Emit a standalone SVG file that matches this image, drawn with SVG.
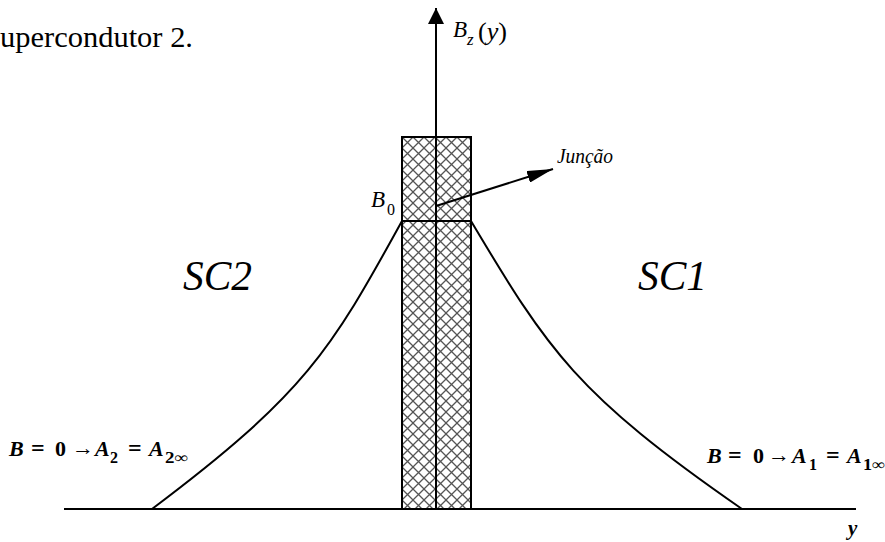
<svg xmlns="http://www.w3.org/2000/svg" width="885" height="542" viewBox="0 0 885 542">
  <defs>
    <style>
      .ln { fill: none; stroke: #000; stroke-width: 2; }
      .m { font-family: "Liberation Serif", "Times New Roman", Tinos, "DejaVu Serif", "Noto Serif", serif; font-style: italic; fill: #000; }
      .n { font-family: "Liberation Serif", "Times New Roman", Tinos, "DejaVu Serif", "Noto Serif", serif; font-style: normal; fill: #000; }
      .t { font-family: "Liberation Serif", "Times New Roman", Tinos, "DejaVu Serif", serif; fill: #000; }
    </style>
    <pattern id="hatch" patternUnits="userSpaceOnUse" x="402" y="137" width="11" height="11">
      <path d="M0,0 L11,11 M11,0 L0,11" stroke="#555" stroke-width="1.3" fill="none"/>
    </pattern>
    <marker id="headAxis" markerUnits="userSpaceOnUse" viewBox="0 0 16 16" refX="16" refY="8" markerWidth="16" markerHeight="16" orient="auto">
      <path d="M0,0 L16,8 L0,16 Z" fill="#000"/>
    </marker>
    <marker id="headJ" markerUnits="userSpaceOnUse" viewBox="0 0 26 12" refX="26" refY="6" markerWidth="26" markerHeight="12" orient="auto">
      <path d="M0,0 L26,6 L0,12 Z" fill="#000"/>
    </marker>
  </defs>
  <rect width="885" height="542" fill="#fff"/>

  <g id="caption">
    <text class="t" x="0" y="47" font-size="30" textLength="193" lengthAdjust="spacingAndGlyphs">upercondutor 2.</text>
  </g>

  <g id="junction-box">
    <rect x="402" y="137" width="69" height="372" fill="url(#hatch)" stroke="#000" stroke-width="2"/>
    <line x1="402" y1="221" x2="471" y2="221" stroke="#000" stroke-width="2"/>
  </g>

  <g id="connectors">
    <line id="baseline" class="ln" x1="64" y1="509" x2="856" y2="509"/>
    <line id="axis" class="ln" x1="436" y1="509" x2="436" y2="8" marker-end="url(#headAxis)"/>
    <line id="junction-arrow" class="ln" x1="436" y1="206" x2="553" y2="169" marker-end="url(#headJ)"/>
    <path id="curve-sc2" class="ln" d="M402,221 C330.5,351 305,394 152,509"/>
    <path id="curve-sc1" class="ln" d="M471,221 C548.5,351 576,394 742,509"/>
  </g>

  <g id="label-bz">
    <text class="m" x="453" y="37" font-size="23">B</text>
    <text class="m" x="467" y="45" font-size="17">z</text>
    <text class="n" x="478" y="40" font-size="25" textLength="29" lengthAdjust="spacingAndGlyphs">(<tspan class="m">y</tspan>)</text>
  </g>

  <g id="label-juncao">
    <text class="m" x="557" y="163" font-size="22" textLength="56" lengthAdjust="spacingAndGlyphs">Junção</text>
  </g>

  <g id="label-b0">
    <text class="m" x="371" y="207" font-size="23">B</text>
    <text class="n" x="387" y="215" font-size="16">0</text>
  </g>

  <g id="label-sc2">
    <text class="m" x="183" y="290" font-size="42" textLength="69" lengthAdjust="spacingAndGlyphs">SC2</text>
  </g>
  <g id="label-sc1">
    <text class="m" x="638" y="290" font-size="42" textLength="69" lengthAdjust="spacingAndGlyphs">SC1</text>
  </g>

  <g id="label-left-cond" font-weight="bold">
    <text class="m" x="9" y="456" font-size="22">B</text>
    <text class="n" x="31" y="456" font-size="24">=</text>
    <text class="n" x="55" y="456" font-size="22">0</text>
    <text class="n" x="72" y="455" font-size="22">→</text>
    <text class="m" x="95" y="456" font-size="22">A</text>
    <text class="n" x="110" y="463" font-size="16">2</text>
    <text class="n" x="128" y="456" font-size="24">=</text>
    <text class="m" x="149" y="456" font-size="22">A</text>
    <text class="n" x="165" y="463" font-size="16" textLength="23" lengthAdjust="spacingAndGlyphs">2∞</text>
  </g>

  <g id="label-right-cond" font-weight="bold">
    <text class="m" x="707" y="463" font-size="22">B</text>
    <text class="n" x="728" y="463" font-size="24">=</text>
    <text class="n" x="753" y="463" font-size="22">0</text>
    <text class="n" x="768" y="462" font-size="22">→</text>
    <text class="m" x="792" y="463" font-size="22">A</text>
    <text class="n" x="809" y="470" font-size="16">1</text>
    <text class="n" x="826" y="463" font-size="24">=</text>
    <text class="m" x="847" y="463" font-size="22">A</text>
    <text class="n" x="863" y="470" font-size="16" textLength="22" lengthAdjust="spacingAndGlyphs">1∞</text>
  </g>

  <g id="label-y">
    <text class="m" x="848" y="535" font-size="21" font-weight="bold">y</text>
  </g>
</svg>
